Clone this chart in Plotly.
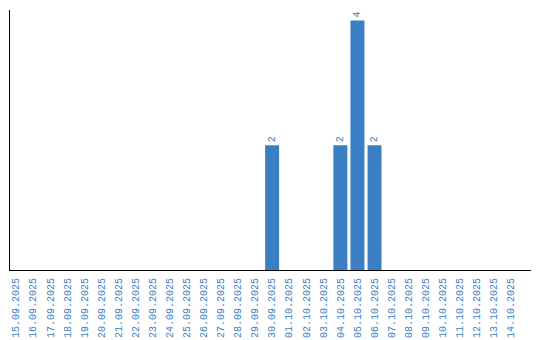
import plotly.graph_objects as go

dates = ["15.09.2025","16.09.2025","17.09.2025","18.09.2025","19.09.2025","20.09.2025",
         "21.09.2025","22.09.2025","23.09.2025","24.09.2025","25.09.2025","26.09.2025",
         "27.09.2025","28.09.2025","29.09.2025","30.09.2025","01.10.2025","02.10.2025",
         "03.10.2025","04.10.2025","05.10.2025","06.10.2025","07.10.2025","08.10.2025",
         "09.10.2025","10.10.2025","11.10.2025","12.10.2025","13.10.2025","14.10.2025"]
counts = [0,0,0,0,0,0,0,0,0,0,0,0,0,0,0,2,0,0,0,2,4,2,0,0,0,0,0,0,0,0]

blue = "#3a7fc4"
labels = [str(c) if c > 0 else "" for c in counts]
font_family = "Liberation Mono"

fig = go.Figure(go.Bar(
    x=list(range(len(dates))), y=counts, marker=dict(color=blue, line=dict(width=0)),
    width=0.82, text=labels, textposition="outside", textangle=-90,
    textfont=dict(family=font_family, size=10, color=blue),
    cliponaxis=False,
))
fig.update_layout(
    width=540, height=340, margin=dict(l=10, r=9, t=10, b=70),
    paper_bgcolor="white", plot_bgcolor="white", showlegend=False,
    font=dict(family=font_family, size=10, color=blue),
)
fig.update_xaxes(
    tickmode="array", tickvals=list(range(len(dates))), ticktext=dates,
    tickangle=-90, range=[-0.36, 30.17], showgrid=False, zeroline=False,
    showline=True, linecolor="black", linewidth=1, ticks="", ticklen=0,
    automargin=False, ticklabelstandoff=3,
    tickfont=dict(family=font_family, size=10, color=blue),
)
fig.update_yaxes(
    range=[0, 4.17], showgrid=False, zeroline=False, showticklabels=False,
    showline=True, linecolor="black", linewidth=1, ticks="", automargin=False,
)
fig.write_html("out.html")
